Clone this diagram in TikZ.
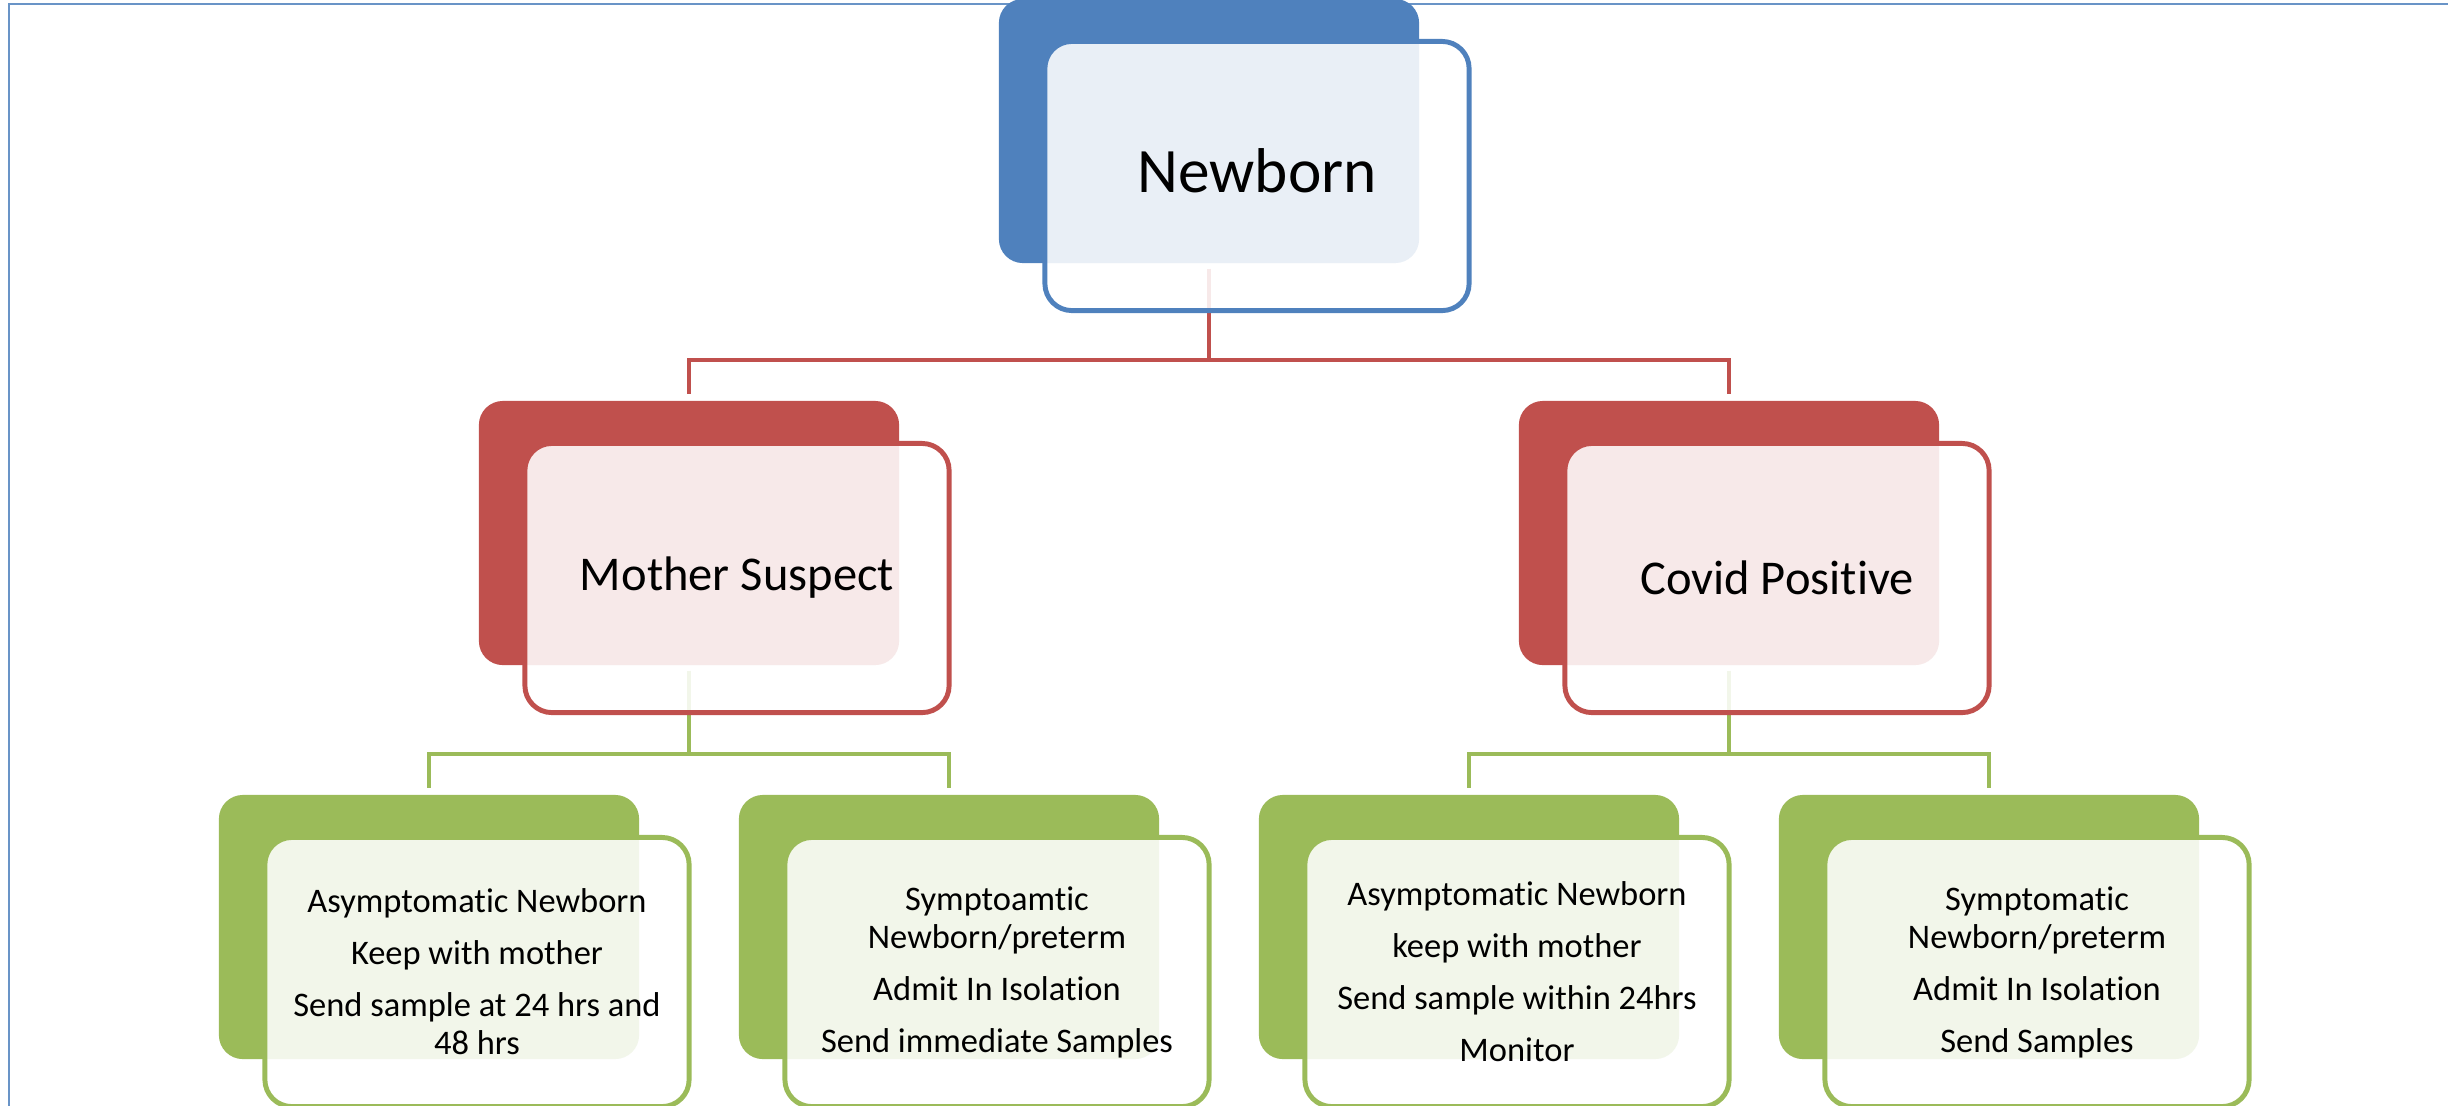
\documentclass[tikz,border=0pt]{standalone}
\usepackage{fontspec}
\setmainfont{Carlito}[Ligatures=NoCommon]
\usepackage{xcolor}
\usepackage{tikz}
\definecolor{accblue}{HTML}{4F81BD}
\definecolor{accred}{HTML}{C0504D}
\definecolor{accgreen}{HTML}{9BBB59}

\begin{document}
\begin{tikzpicture}[x=0.01cm, y=-0.01cm,
  back/.style={rectangle, rounded corners=0.24cm, minimum width=4.2cm, minimum height=2.64cm, inner sep=0pt},
  front/.style={rectangle, rounded corners=0.27cm, minimum width=4.24cm, minimum height=2.69cm, inner sep=0pt, line width=1.4pt, fill=white, fill opacity=0.88, text opacity=1, align=center},
  link/.style={line width=1.15pt, shorten <=0.05cm, shorten >=0.06cm},
  leaf/.style={front, draw=accgreen, font=\fontsize{9.8pt}{10.8pt}\selectfont}]
\useasboundingbox (0,0) rectangle (2448,1105);
\clip (0,0) rectangle (2448,1105);
\draw[accblue!85, line width=0.6pt] (9,4) rectangle (2480,1140);
% back cards
\node[back, fill=accblue] (newbornBack) at (1209,131) {};
\node[back, fill=accred] (motherBack) at (689,533) {};
\node[back, fill=accred] (covidBack) at (1729,533) {};
\node[back, fill=accgreen] (leafABack) at (429,927) {};
\node[back, fill=accgreen] (leafBBack) at (949,927) {};
\node[back, fill=accgreen] (leafCBack) at (1469,927) {};
\node[back, fill=accgreen] (leafDBack) at (1989,927) {};
% connectors
\draw[link, accred] (newbornBack.south) -- ++(0,96) -| (motherBack.north);
\draw[link, accred] (newbornBack.south) -- ++(0,96) -| (covidBack.north);
\draw[link, accgreen] (motherBack.south) -- ++(0,88) -| (leafABack.north);
\draw[link, accgreen] (motherBack.south) -- ++(0,88) -| (leafBBack.north);
\draw[link, accgreen] (covidBack.south) -- ++(0,88) -| (leafCBack.north);
\draw[link, accgreen] (covidBack.south) -- ++(0,88) -| (leafDBack.north);
% front cards
\node[front, draw=accblue, font=\fontsize{18pt}{21pt}\selectfont] (newborn) at (1257,176) {\raisebox{3pt}{Newborn}};
\node[front, draw=accred, font=\fontsize{13.8pt}{16pt}\selectfont] (mother) at (737,578) {Mother Suspect};
\node[front, draw=accred, font=\fontsize{13.8pt}{16pt}\selectfont] (covid) at (1777,578) {Covid Positive};
\node[leaf] (leafA) at (477,972) {Asymptomatic Newborn\\[4pt]Keep with mother\\[4pt]Send sample at 24 hrs and\\48 hrs};
\node[leaf] (leafB) at (997,972) {Symptoamtic\\Newborn/preterm\\[4pt]Admit In Isolation\\[4pt]Send immediate Samples};
\node[leaf] (leafC) at (1517,972) {Asymptomatic Newborn\\[4pt]keep with mother\\[4pt]Send sample within 24hrs\\[4pt]Monitor};
\node[leaf] (leafD) at (2037,972) {Symptomatic\\Newborn/preterm\\[4pt]Admit In Isolation\\[4pt]Send Samples};
\end{tikzpicture}
\end{document}
